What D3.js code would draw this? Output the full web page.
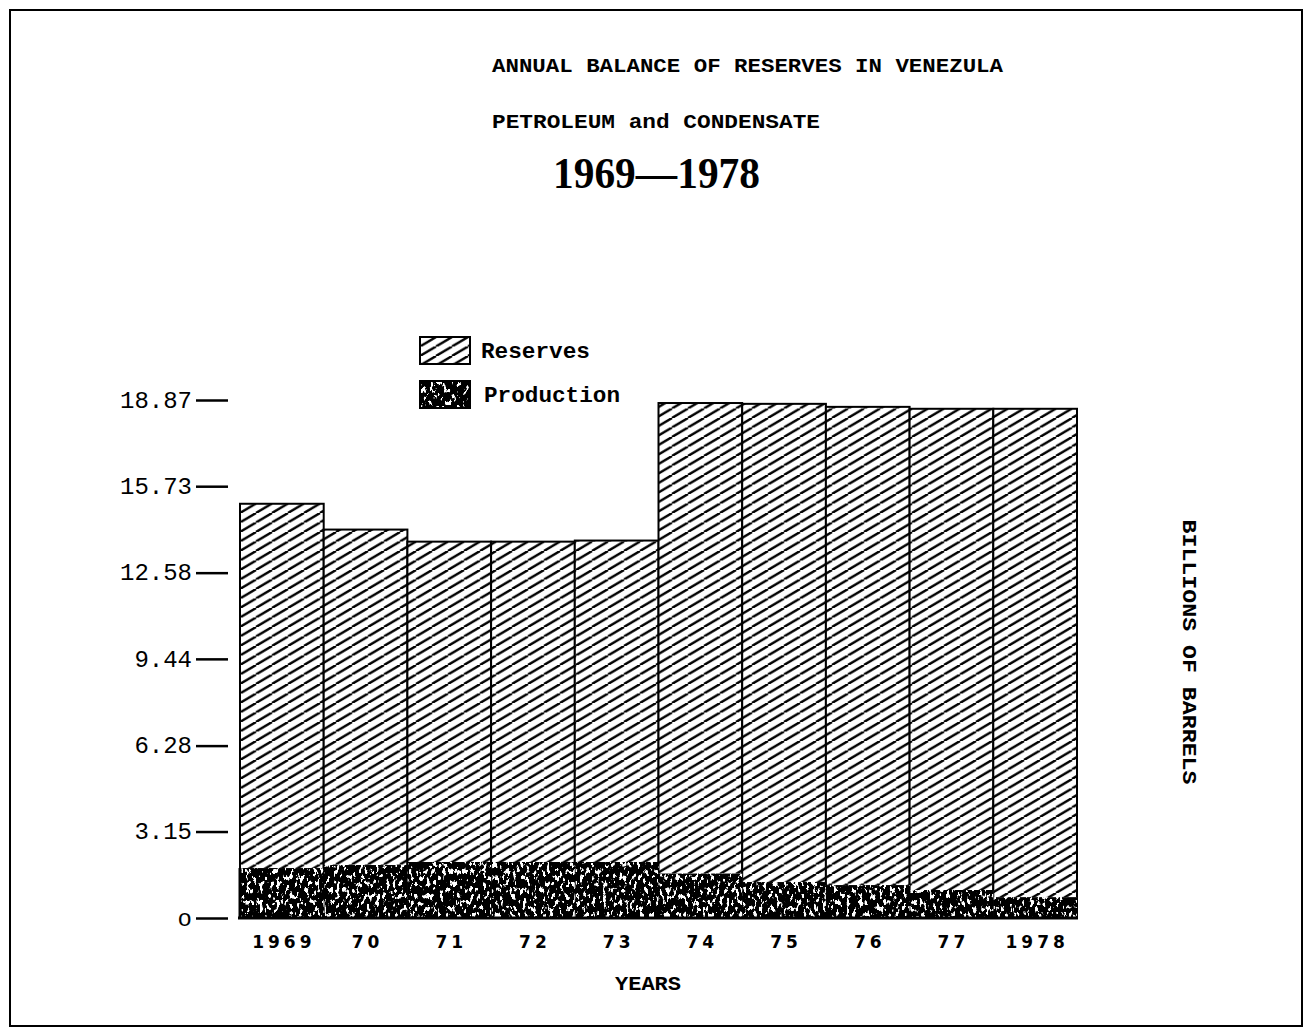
<!DOCTYPE html>
<meta charset="utf-8">
<style>
body { margin: 0; background: #fff; }
.title { font-family: "Liberation Mono", "DejaVu Sans Mono", monospace; font-weight: bold; font-size: 21px; }
.big { font-family: "Liberation Serif", "DejaVu Serif", serif; font-weight: bold; font-size: 44px; }
.axis text { font-family: "Liberation Mono", monospace; font-size: 24px; fill: #000; }
.axis line { stroke: #000; stroke-width: 2.5; }
.years { font-family: "DejaVu Sans", sans-serif; font-weight: bold; font-size: 17px; letter-spacing: 4px; }
.legend { font-family: "Liberation Mono", monospace; font-weight: bold; font-size: 22px; }
</style>
<body>
<script src="https://cdn.jsdelivr.net/npm/d3@7"></script>
<script>

// data (billions of barrels)
var years = ["1969", "1970", "1971", "1972", "1973", "1974", "1975", "1976", "1977", "1978"];
var yearLabels = ["1969", "70", "71", "72", "73", "74", "75", "76", "77", "1978"];
var reserves = [15.09, 14.15, 13.71, 13.71, 13.75, 18.76, 18.73, 18.62, 18.55, 18.55];
var production = [1.82, 1.93, 2.04, 2.04, 2.04, 1.62, 1.31, 1.20, 1.02, 0.76];
var tickValues = [0, 3.15, 6.28, 9.44, 12.58, 15.73, 18.87];
var tickLabels = ["o", "3.15", "6.28", "9.44", "12.58", "15.73", "18.87"];

var W = 1308, H = 1030;

var svg = d3.select("body").append("svg")
    .attr("width", W)
    .attr("height", H);

var defs = svg.append("defs");

// diagonal hatch for reserves, lines rising to the right at ~30 deg
var hw = 16, hh = 9.5;
var hatch = defs.append("pattern")
    .attr("id", "hatch")
    .attr("patternUnits", "userSpaceOnUse")
    .attr("width", hw)
    .attr("height", hh);
hatch.append("rect").attr("width", hw).attr("height", hh).attr("fill", "#fff");
[[0, hh, hw, 0], [-hw, hh, 0, 0], [hw, hh, 2 * hw, 0]].forEach(function(s) {
  hatch.append("line")
      .attr("x1", s[0]).attr("y1", s[1])
      .attr("x2", s[2]).attr("y2", s[3])
      .attr("stroke", "#000")
      .attr("stroke-width", 2.4);
});

// speckled grain for production
var grain = defs.append("filter")
    .attr("id", "grain")
    .attr("x", 0).attr("y", 0).attr("width", 1).attr("height", 1);
grain.append("feTurbulence")
    .attr("type", "fractalNoise")
    .attr("baseFrequency", "0.3 0.16")
    .attr("numOctaves", 3)
    .attr("seed", 11)
    .attr("result", "n");
grain.append("feColorMatrix")
    .attr("in", "n")
    .attr("type", "matrix")
    .attr("values", "0 0 0 0 0  0 0 0 0 0  0 0 0 0 0  -16 0 0 0 10.2")
    .attr("result", "m");
grain.append("feComposite")
    .attr("in", "m")
    .attr("in2", "SourceGraphic")
    .attr("operator", "in");

// page frame
svg.append("rect")
    .attr("x", 10).attr("y", 10)
    .attr("width", 1292).attr("height", 1016)
    .attr("fill", "none")
    .attr("stroke", "#000")
    .attr("stroke-width", 2);

// scales
var x = d3.scaleBand()
    .domain(years)
    .range([240, 1077])
    .padding(0);

var y = d3.scaleLinear()
    .domain([0, 18.87])
    .range([918, 400]);

// titles
svg.append("text").attr("class", "title")
    .attr("x", 492).attr("y", 72)
    .attr("textLength", 511).attr("lengthAdjust", "spacingAndGlyphs")
    .text("ANNUAL BALANCE OF RESERVES IN VENEZULA");

svg.append("text").attr("class", "title")
    .attr("x", 492).attr("y", 128)
    .attr("textLength", 328).attr("lengthAdjust", "spacingAndGlyphs")
    .text("PETROLEUM and CONDENSATE");

svg.append("text").attr("class", "big")
    .attr("x", 553).attr("y", 188)
    .attr("textLength", 207).attr("lengthAdjust", "spacingAndGlyphs")
    .text("1969\u20141978");

// reserves bars
svg.selectAll(".res")
    .data(years)
  .enter().append("rect")
    .attr("class", "res")
    .attr("x", function(d) { return x(d); })
    .attr("y", function(d, i) { return y(reserves[i]); })
    .attr("width", x.bandwidth())
    .attr("height", function(d, i) { return y(0) - y(reserves[i]); })
    .attr("fill", "url(#hatch)")
    .attr("stroke", "#000")
    .attr("stroke-width", 2);

// production bars (white base + grain on top)
var prod = svg.append("g");
prod.selectAll(".prodbase")
    .data(years)
  .enter().append("rect")
    .attr("x", function(d) { return x(d) + 1; })
    .attr("y", function(d, i) { return y(production[i]); })
    .attr("width", x.bandwidth() - 1)
    .attr("height", function(d, i) { return y(0) - y(production[i]); })
    .attr("fill", "#fff");

var prodGrain = svg.append("g").attr("filter", "url(#grain)");
prodGrain.selectAll(".prod")
    .data(years)
  .enter().append("rect")
    .attr("x", function(d) { return x(d); })
    .attr("y", function(d, i) { return y(production[i]); })
    .attr("width", x.bandwidth() + 0.5)
    .attr("height", function(d, i) { return y(0) - y(production[i]); })
    .attr("fill", "#000");

// left edge and baseline
svg.append("line")
    .attr("x1", x.range()[0]).attr("x2", x.range()[0])
    .attr("y1", y(0)).attr("y2", y(production[0]))
    .attr("stroke", "#000")
    .attr("stroke-width", 3);

svg.append("line")
    .attr("x1", x.range()[0] - 2).attr("x2", x.range()[1] + 1)
    .attr("y1", y(0)).attr("y2", y(0))
    .attr("stroke", "#000")
    .attr("stroke-width", 3);

// y axis
var yAxis = svg.append("g")
    .attr("class", "axis")
    .attr("transform", "translate(228,0)")
    .call(d3.axisLeft(y)
        .tickValues(tickValues)
        .tickSize(32)
        .tickPadding(4)
        .tickFormat(function(d, i) { return tickLabels[i]; }));
yAxis.select(".domain").remove();
yAxis.selectAll("text").attr("dy", "0.3em");

// x labels
svg.selectAll(".years")
    .data(years)
  .enter().append("text")
    .attr("class", "years")
    .attr("x", function(d) { return x(d) + x.bandwidth() / 2 + 2; })
    .attr("y", 948)
    .attr("text-anchor", "middle")
    .text(function(d, i) { return yearLabels[i]; });

svg.append("text").attr("class", "title")
    .attr("x", 648).attr("y", 990)
    .attr("text-anchor", "middle")
    .attr("textLength", 66).attr("lengthAdjust", "spacingAndGlyphs")
    .text("YEARS");

// right axis title
svg.append("text").attr("class", "title")
    .attr("transform", "translate(1183,652) rotate(90)")
    .attr("text-anchor", "middle")
    .attr("textLength", 265).attr("lengthAdjust", "spacingAndGlyphs")
    .text("BILLIONS OF BARRELS");

// legend
var legendKeys = ["Reserves", "Production"];
var legend = svg.append("g")
    .selectAll("g")
    .data(legendKeys)
  .enter().append("g")
    .attr("transform", function(d, i) { return "translate(420," + (337 + i * 44) + ")"; });

legend.append("rect")
    .attr("width", 50)
    .attr("height", 27)
    .attr("fill", function(d, i) { return i == 0 ? "url(#hatch)" : "#fff"; })
    .attr("stroke", "#000")
    .attr("stroke-width", 2);

legend.filter(function(d, i) { return i == 1; })
  .append("rect")
    .attr("width", 50)
    .attr("height", 27)
    .attr("fill", "#000")
    .attr("filter", "url(#grain)");

legend.append("text")
    .attr("class", "legend")
    .attr("x", function(d, i) { return i == 0 ? 61 : 64; })
    .attr("y", 21)
    .attr("textLength", function(d, i) { return i == 0 ? 109 : 136; })
    .attr("lengthAdjust", "spacingAndGlyphs")
    .text(function(d) { return d; });

</script>
</body>
